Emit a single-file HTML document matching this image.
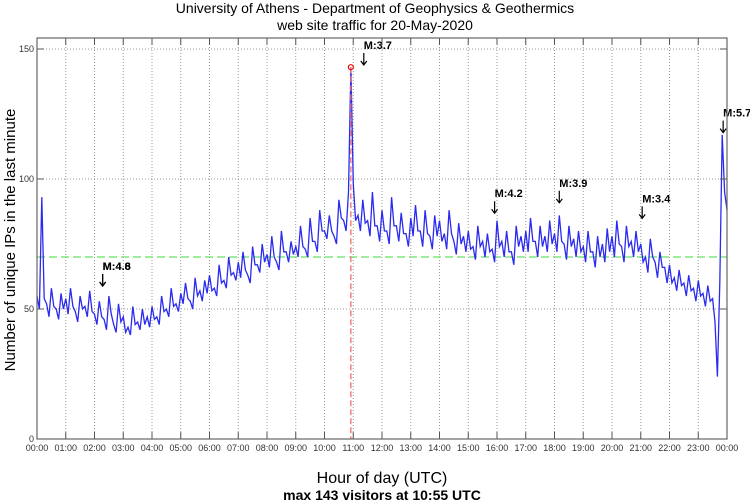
<!DOCTYPE html>
<html><head><meta charset="utf-8"><style>
html,body{margin:0;padding:0;background:#fff;}
svg{display:block;font-family:"Liberation Sans",sans-serif;}
</style></head><body>
<svg id="chart" width="750" height="503" viewBox="0 0 750 503">
<text x="375" y="13" text-anchor="middle" font-size="14">University of Athens - Department of Geophysics &amp; Geothermics</text>
<text x="375" y="30" text-anchor="middle" font-size="14">web site traffic for 20-May-2020</text>
<text x="382" y="483" text-anchor="middle" font-size="16">Hour of day (UTC)</text>
<text x="382" y="500" text-anchor="middle" font-size="14" font-weight="bold">max 143 visitors at 10:55 UTC</text>
<text transform="translate(15,240) rotate(-90)" text-anchor="middle" font-size="15">Number of unique IPs in the last minute</text>
<g id="grid"></g><g id="marks"></g><g id="axes"></g>
</svg>
<script>
const hourLabels=["00:00","01:00","02:00","03:00","04:00","05:00","06:00","07:00","08:00","09:00","10:00","11:00","12:00","13:00","14:00","15:00","16:00","17:00","18:00","19:00","20:00","21:00","22:00","23:00","00:00"];
const yTicks=[0,50,100,150];
// visitors sampled every 10 minutes from 00:00
const visitors=[55,93,52,58,50,56, 54,58,49,55,51,57, 48,53,46,55,44,52, 47,43,51,45,50,47,
51,47,55,50,58,52, 56,60,53,62,57,61, 63,58,67,61,70,64, 68,72,63,74,67,75,
71,78,68,80,72,76, 74,82,73,85,76,88, 80,86,78,92,84,95, 98,86,92,84,95,82,
88,80,93,82,87,79, 85,90,80,88,78,86, 84,79,88,76,83,78, 80,74,82,76,79,73,
84,76,80,72,82,78, 80,85,76,82,78,84, 79,86,75,82,77,80, 74,80,72,78,75,81,
78,84,74,82,76,80, 75,70,77,68,72,66, 67,62,65,60,63,58, 61,56,59,54,24,117,88];
// visitors sampled every 10 minutes from 00:05
const visitorsMid=[50,54,47,51,46,50, 48,51,45,50,47,49, 44,47,42,48,41,45, 41,40,44,42,44,43,
46,44,49,47,51,49, 52,54,50,55,53,56, 57,55,60,58,63,61, 62,65,60,67,64,68,
66,70,65,72,68,71, 70,74,70,76,72,80, 77,80,75,85,80,90, 84,80,83,78,82,76,
80,75,82,76,79,74, 78,80,74,79,73,78, 76,73,79,71,75,72, 73,69,74,70,72,68,
74,70,72,67,74,72, 72,76,70,74,72,75, 72,76,69,74,70,72, 68,72,66,70,68,72,
70,75,68,74,70,72, 68,64,70,62,66,60, 60,57,59,55,57,53, 55,51,53,45,60,95];
const maxMinute=655, maxValue=143;
const averageValue=70;
const quakeLabels=["M:4.8","M:4.6","M:3.7","M:4.2","M:3.9","M:3.4","M:5.7"];
const quakeMinutes=[137,137,682,955,1090,1263,1432];
const quakeLevels=[65,65,150,93,97,91,124];

const X0=37,X1=727,Y0=439,Y1=38;
const xs=m=>X0+(X1-X0)*m/1440;
const ys=v=>Y0-v*2.6;
const NS="http://www.w3.org/2000/svg";
function mk(tag,attrs,parent){const e=document.createElementNS(NS,tag);for(const k in attrs)e.setAttribute(k,attrs[k]);parent.appendChild(e);return e;}
const grid=document.getElementById('grid'),marks=document.getElementById('marks'),axes=document.getElementById('axes');

hourLabels.forEach((l,i)=>{const x=xs(i*60);
 if(i>0&&i<24){const g=mk('line',{x1:x,x2:x,y1:Y1,y2:Y0,stroke:'#999','stroke-dasharray':'1,2','stroke-width':1},grid);
 
 }
 const t=mk('line',{x1:x,x2:x,y1:Y0,y2:Y0-7,stroke:'#555'},axes);
 
 
 const t2=mk('line',{x1:x,x2:x,y1:Y1,y2:Y1+7,stroke:'#555'},axes);
 
 
 const tx=mk('text',{x:x,y:451,'text-anchor':'middle','font-size':9,fill:'#333'},axes);tx.textContent=l;
 
 
});
yTicks.forEach(v=>{const y=ys(v);
 if(v>0){const g=mk('line',{x1:X0,x2:X1,y1:y,y2:y,stroke:'#999','stroke-dasharray':'1,2'},grid);
 
 }
 const t=mk('line',{x1:X0,x2:X0+7,y1:y,y2:y,stroke:'#555'},axes);
 
 
 const t2=mk('line',{x1:X1,x2:X1-7,y1:y,y2:y,stroke:'#555'},axes);
 
 
 const tx=mk('text',{x:X0-3,y:y+3,'text-anchor':'end','font-size':9,fill:'#333'},axes);tx.textContent=v;
 
 
});
const frame=mk('rect',{x:X0,y:Y1,width:X1-X0,height:Y0-Y1,fill:'none',stroke:'#666','stroke-width':1.2},axes);



const avg=mk('line',{x1:X0,x2:X1,y1:ys(averageValue),y2:ys(averageValue),stroke:'#66e066','stroke-dasharray':'8,4','stroke-width':1.3},marks);



let pts=visitors.map((v,i)=>[i*10,v]).concat(visitorsMid.map((v,i)=>[i*10+5,v]));
pts=pts.filter(p=>p[0]!==maxMinute);pts.push([maxMinute,maxValue]);pts.sort((a,b)=>a[0]-b[0]);
const d=pts.map((p,i)=>(i?'L':'M')+xs(p[0]).toFixed(1)+','+ys(p[1]).toFixed(1)).join('');
const ln=mk('path',{d:d,fill:'none',stroke:'#2a2af0','stroke-width':1.3},marks);



const mx=xs(maxMinute);
const ml=mk('line',{x1:mx,x2:mx,y1:ys(maxValue),y2:Y0,stroke:'#f07070','stroke-dasharray':'6,3','stroke-width':1.3},marks);


const mc=mk('circle',{cx:mx,cy:ys(maxValue),r:2.5,fill:'none',stroke:'#e00','stroke-width':1.2},marks);



quakeLabels.forEach((l,i)=>{const x=xs(quakeMinutes[i]),y=ys(quakeLevels[i]);
 const a=mk('path',{d:`M${x},${y+4}L${x},${y+16}M${x-3},${y+12}L${x},${y+16}L${x+3},${y+12}`,fill:'none',stroke:'#000','stroke-width':1.2},marks);
 
 
 const t=mk('text',{x:x,y:y,'font-size':11,'font-weight':'bold'},marks);t.textContent=l;
 
 
});
</script>
</body></html>
